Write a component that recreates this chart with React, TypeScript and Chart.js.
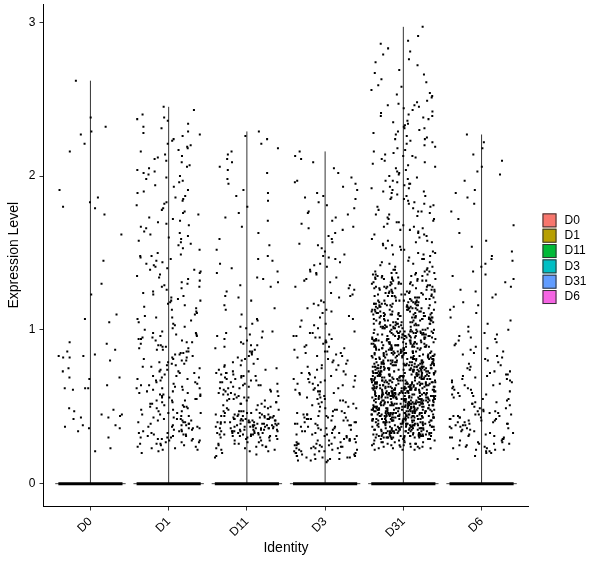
import React, { useEffect, useRef } from "react";
import Chart from "chart.js/auto";
import type { Plugin } from "chart.js";

// identities, in axis order, with ggplot's default hue palette
const IDENTS = ["D0", "D1", "D11", "D3", "D31", "D6"];
const IDENT_COLORS = ["#F8766D", "#B79F00", "#00BA38", "#00BFC4", "#619CFF", "#F564E3"];
const Y_TICKS = [0, 1, 2, 3];

// non-zero expression per cell, in hundredths (the zero cells make the black band at 0)
const D0_EXPR = [
  262, 238, 232, 229, 227, 221, 216, 191, 186, 183, 180, 179, 175, 162, 145, 130, 123, 110, 107, 105,
  92, 91, 87, 86, 84, 83, 83, 82, 82, 80, 75, 73, 69, 69, 68, 64, 62, 62, 62, 61,
  49, 48, 47, 45, 45, 44, 43, 43, 42, 38, 37, 36, 36, 38, 34, 30, 23, 21,
];

const D1_EXPR = [
  245, 243, 240, 238, 237, 234, 232, 231, 229, 227, 226, 224, 223, 221, 220, 218, 217, 216, 214, 213,
  211, 210, 209, 207, 206, 205, 204, 203, 202, 201, 200, 228, 219, 212, 236,
  199, 197, 196, 194, 193, 191, 190, 189, 187, 186, 184, 182, 181, 179, 178, 176, 175, 173, 172, 170,
  169, 167, 166, 164, 162, 161, 159, 158, 156, 155, 153, 152, 150, 198, 185, 177, 168, 160, 157, 183, 171, 163,
  149, 148, 146, 145, 143, 142, 140, 139, 138, 136, 135, 133, 132, 130, 129, 128, 126, 125, 123, 122,
  121, 119, 118, 116, 115, 114, 112, 111, 109, 108, 107, 105, 104, 102, 101, 100, 147, 141, 134, 127,
  120, 113, 106, 144, 137, 131, 124, 117, 110, 103, 148, 139, 128, 119, 108,
  99, 98, 97, 96, 95, 94, 93, 92, 91, 90, 89, 88, 87, 86, 85, 84, 83, 82, 81, 80,
  79, 78, 77, 76, 75, 74, 73, 72, 71, 70, 98, 96, 94, 92, 90, 88, 86, 84, 82, 80,
  78, 76, 74, 72, 70, 97, 93, 89, 85, 81, 77, 73, 95, 87, 79,
  69, 68, 67, 66, 65, 64, 63, 62, 61, 60, 59, 58, 57, 56, 55, 54, 53, 52, 51, 50,
  49, 48, 47, 46, 45, 68, 66, 64, 62, 60, 58, 56, 54, 52, 50, 48, 46, 67, 63, 59,
  55, 51, 47, 65, 61, 57, 53, 49, 45, 69, 62, 58, 54, 50, 46,
  44, 43, 42, 41, 40, 39, 38, 37, 36, 35, 34, 33, 32, 31, 30, 29, 28, 27, 26, 25,
  24, 23, 22, 21, 20, 44, 42, 40, 38, 36, 34, 32, 30, 28, 26, 24, 22, 43, 41, 39,
  37, 35, 33, 31, 29, 27, 25, 23, 41, 38, 35, 32, 29, 26, 40, 36, 33, 30, 27, 39,
  34, 31, 37, 28, 42,
];

const D11_EXPR = [
  229, 226, 221, 218, 214, 211, 209, 206, 204, 202, 224, 216,
  198, 195, 191, 187, 184, 180, 176, 171, 167, 163, 159, 155, 152, 189, 173,
  148, 146, 143, 140, 137, 134, 131, 128, 125, 122, 119, 116, 113, 110, 107, 104, 101, 145, 138, 129,
  121, 114, 106, 102, 133,
  99, 98, 96, 95, 93, 92, 90, 89, 87, 86, 84, 83, 81, 80, 78, 77, 75, 97, 94, 91,
  88, 85, 82, 79, 76, 99, 90, 86, 81, 77,
  74, 73, 72, 71, 70, 69, 68, 67, 66, 65, 64, 63, 62, 61, 60, 59, 58, 57, 56, 55,
  54, 53, 52, 51, 50, 74, 72, 70, 68, 66, 64, 62, 60, 58, 56, 54, 52, 50, 73, 69,
  65, 61, 57, 53, 51, 71, 67, 63, 59, 55, 72, 66, 60, 54, 70, 64, 58, 52, 62, 56,
  49, 48, 47, 46, 45, 44, 43, 42, 41, 40, 39, 38, 37, 36, 35, 34, 33, 32, 31, 30,
  49, 48, 47, 46, 45, 44, 43, 42, 41, 40, 39, 38, 37, 36, 35, 34, 33, 32, 31, 30,
  48, 47, 46, 45, 44, 43, 42, 41, 40, 39, 38, 37, 36, 35, 34, 33, 32, 31, 30,
  47, 45, 43, 41, 39, 37, 35, 33, 31, 46, 44, 42, 40, 38, 36, 34, 32, 30,
  45, 44, 43, 42, 41, 40, 39, 38, 37, 36, 35, 34, 33, 32,
  44, 42, 40, 38, 36, 34, 32, 41, 39, 37, 35, 33, 43, 40, 37, 34, 31, 39, 36,
  29, 28, 27, 26, 25, 24, 23, 22, 21, 20, 19, 18, 17, 29, 28, 27, 26, 25, 24, 23,
  22, 21, 28, 26, 24,
];

const D3_EXPR = [
  216, 213, 209, 205, 202, 211,
  199, 197, 195, 193, 191, 189, 187, 185, 183, 181, 179, 177, 175, 173, 171, 169, 167, 165, 163, 161,
  159, 157, 155, 153, 151, 196, 186, 176, 166, 156,
  149, 147, 146, 144, 142, 141, 139, 137, 136, 134, 132, 131, 129, 127, 126, 124, 122, 121, 119, 117,
  116, 114, 112, 111, 109, 107, 106, 104, 102, 101, 148, 143, 138, 133, 128, 123, 118, 113, 108, 103,
  99, 98, 97, 96, 95, 94, 93, 92, 91, 90, 89, 88, 87, 86, 85, 84, 83, 82, 81, 80,
  79, 78, 77, 76, 75, 98, 95, 92, 89, 86, 83, 80, 77, 96, 85,
  74, 73, 72, 71, 70, 69, 68, 67, 66, 65, 64, 63, 62, 61, 60, 59, 58, 57, 56, 55,
  54, 53, 52, 51, 50, 74, 72, 70, 68, 66, 64, 62, 60, 58, 56, 54, 52, 50, 71, 65,
  59, 53, 67, 61, 55,
  49, 48, 47, 46, 45, 44, 43, 42, 41, 40, 39, 38, 37, 36, 35, 34, 33, 32, 31, 30,
  49, 47, 45, 43, 41, 39, 37, 35, 33, 31, 48, 46, 44, 42, 40, 38, 36, 34, 32, 30,
  47, 44, 41, 38, 35, 32, 45, 42, 39, 36, 33, 43, 37, 31, 40,
  29, 28, 27, 26, 25, 24, 23, 22, 21, 20, 19, 18, 17, 16, 15, 14, 29, 28, 27, 26,
  25, 24, 23, 22, 21, 20, 19, 18, 17, 16, 15, 28, 26, 24, 22, 20, 18, 16, 27, 25,
  23, 21, 19, 17, 15, 29, 26, 23, 20, 17, 28, 24, 21, 18, 25,
];

const D31_EXPR = [
  297, 291, 286, 283, 279, 276, 272, 269, 266, 263, 261, 258, 256, 254, 252, 251, 288, 281, 274, 267, 259, 253,
  249, 248, 247, 246, 245, 244, 243, 242, 241, 240, 239, 238, 237, 236, 235, 234, 233, 232, 231, 230,
  229, 228, 227, 226, 225, 224, 223, 222, 221, 220, 219, 218, 217, 216, 215, 214, 213, 212, 211, 210,
  209, 208, 207, 206, 205, 204, 203, 202, 201, 200, 246, 239, 231, 224, 213,
  199, 198, 197, 196, 195, 194, 193, 192, 191, 190, 189, 188, 187, 186, 185, 184, 183, 182, 181, 180,
  179, 178, 177, 176, 175, 174, 173, 172, 171, 170, 169, 168, 167, 166, 165, 164, 163, 162, 161, 160,
  197, 192, 187, 182, 177, 172, 167, 162, 195, 185, 175, 165, 190, 180, 170,
  159, 158, 157, 156, 155, 154, 153, 152, 151, 150, 149, 148, 147, 146, 145, 144, 143, 142, 141, 140,
  158, 155, 152, 149, 146, 143, 141, 157, 150, 144,
  139, 138, 137, 136, 135, 134, 133, 132, 131, 130, 129, 128, 127, 126, 125, 124, 123, 122, 121, 120,
  139, 138, 137, 136, 135, 134, 133, 132, 131, 130, 129, 128, 127, 126, 125, 124, 123, 122, 121, 120,
  138, 136, 134, 132, 130, 128, 126, 124, 122, 120, 139, 137, 135, 133, 131, 129, 127, 125, 123, 121,
  137, 134, 131, 128, 125, 122, 136, 133, 130, 127, 124, 121, 135, 132, 129, 126, 123, 120,
  130, 126, 122, 128, 124, 121, 133, 127, 125, 123,
  119, 118, 117, 116, 115, 114, 113, 112, 111, 110, 109, 108, 107, 106, 105, 104, 103, 102, 101, 100,
  118, 116, 114, 112, 110, 108, 106, 104, 102, 100, 119, 117, 115, 113, 111, 109, 107, 105, 103, 101,
  117, 115, 112, 109, 106, 103, 100, 118, 114, 111, 108, 105, 102, 116, 113, 110, 107, 104, 101, 119,
  119, 118, 117, 116, 115, 114, 113, 112, 111, 110, 109, 108, 107, 106, 105, 104, 103, 102, 101, 100,
  110, 105, 100, 115, 108, 103, 118, 112, 106, 101, 117, 111, 104, 113, 107, 102, 116, 109, 114, 119,
  101, 102, 103, 104, 105, 106, 107, 108, 109, 110, 111, 112, 113, 114, 115, 116, 117, 118, 119, 100,
  106, 111, 104, 109, 102, 114, 107, 100, 112, 105, 118, 103, 116, 108, 101, 113, 110, 115, 117, 119,
  99, 98, 97, 96, 95, 94, 93, 92, 91, 90, 89, 88, 87, 86, 85, 84, 83, 82, 81, 80,
  98, 96, 94, 92, 90, 88, 86, 84, 82, 80, 99, 97, 95, 93, 91, 89, 87, 85, 83, 81,
  97, 94, 91, 88, 85, 82, 99, 96, 93, 90, 87, 84, 81, 98, 95, 92, 89, 86, 83, 80,
  80, 81, 82, 83, 84, 85, 86, 87, 88, 89, 90, 91, 92, 93, 94, 95, 96, 97, 98, 99,
  90, 85, 80, 95, 88, 83, 98, 92, 86, 81, 97, 91, 84, 93, 87, 82, 96, 89, 94, 99,
  81, 83, 85, 87, 89, 91, 93, 95, 97, 99, 80, 82, 84, 86, 88, 90, 92, 94, 96, 98,
  86, 91, 84, 89, 82, 94, 87, 80, 92, 85, 98, 83, 96, 88, 81, 93, 90, 95, 97, 99,
  99, 98, 97, 96, 95, 94, 93, 92, 91, 90, 89, 88, 87, 86, 85, 84, 83, 82, 81, 80,
  84, 88, 92, 96, 80, 85, 89, 93, 97, 81, 86, 90, 94, 98, 82, 87, 91, 95, 99, 83,
  79, 78, 77, 76, 75, 74, 73, 72, 71, 70, 69, 68, 67, 66, 65, 64, 63, 62, 61, 60,
  78, 76, 74, 72, 70, 68, 66, 64, 62, 60, 79, 77, 75, 73, 71, 69, 67, 65, 63, 61,
  77, 74, 71, 68, 65, 62, 79, 76, 73, 70, 67, 64, 61, 78, 75, 72, 69, 66, 63, 60,
  60, 61, 62, 63, 64, 65, 66, 67, 68, 69, 70, 71, 72, 73, 74, 75, 76, 77, 78, 79,
  70, 65, 60, 75, 68, 63, 78, 72, 66, 61, 77, 71, 64, 73, 67, 62, 76, 69, 74, 79,
  61, 63, 65, 67, 69, 71, 73, 75, 77, 79, 60, 62, 64, 66, 68, 70, 72, 74, 76, 78,
  66, 71, 64, 69, 62, 74, 67, 60, 72, 65, 78, 63, 76, 68, 61, 73, 70, 75, 77, 79,
  79, 78, 77, 76, 75, 74, 73, 72, 71, 70, 69, 68, 67, 66, 65, 64, 63, 62, 61, 60,
  64, 68, 72, 76, 60, 65, 69, 73, 77, 61, 66, 70, 74, 78, 62, 67, 71, 75, 79, 63,
  63, 66, 69, 72, 75, 78, 61, 64, 67, 70, 73, 76, 79, 62, 65, 68, 71, 74, 77, 60,
  75, 70, 65, 60, 79, 74, 69, 64, 78, 73, 68, 63, 77, 72, 67, 62, 76, 71, 66, 61,
  72, 76, 71, 78, 74, 70, 77, 73, 75, 79,
  59, 58, 57, 56, 55, 54, 53, 52, 51, 50, 49, 48, 47, 46, 45, 44, 43, 42, 41, 40,
  58, 56, 54, 52, 50, 48, 46, 44, 42, 40, 59, 57, 55, 53, 51, 49, 47, 45, 43, 41,
  57, 54, 51, 48, 45, 42, 59, 56, 53, 50, 47, 44, 41, 58, 55, 52, 49, 46, 43, 40,
  40, 41, 42, 43, 44, 45, 46, 47, 48, 49, 50, 51, 52, 53, 54, 55, 56, 57, 58, 59,
  50, 45, 40, 55, 48, 43, 58, 52, 46, 41, 57, 51, 44, 53, 47, 42, 56, 49, 54, 59,
  41, 43, 45, 47, 49, 51, 53, 55, 57, 59, 40, 42, 44, 46, 48, 50, 52, 54, 56, 58,
  46, 51, 44, 49, 42, 54, 47, 40, 52, 45, 58, 43, 56, 48, 41, 53, 50, 55, 57, 59,
  59, 58, 57, 56, 55, 54, 53, 52, 51, 50, 49, 48, 47, 46, 45, 44, 43, 42, 41, 40,
  44, 48, 52, 56, 40, 45, 49, 53, 57, 41, 46, 50, 54, 58, 42, 47, 51, 55, 59, 43,
  43, 46, 49, 52, 55, 58, 41, 44, 47, 50, 53, 56, 59, 42, 45, 48, 51, 54, 57, 40,
  55, 50, 45, 40, 59, 54, 49, 44, 58, 53, 48, 43, 57, 52, 47, 42, 56, 51, 46, 41,
  52, 47, 56, 41, 53, 44, 58, 49, 40, 55, 46, 51, 42, 57, 48, 43, 59, 54, 45, 50,
  62, 57, 48, 66, 53, 44, 69, 59, 50, 41, 64, 55, 46, 67, 58, 49, 42, 61, 52, 45,
  47, 56, 63, 51, 43, 68, 54, 60, 49, 65, 40, 57, 46, 62, 53, 44, 59, 48, 66, 55,
  52, 61, 45, 58, 50, 67, 43, 56, 63, 47, 54, 41, 60, 49, 65, 51, 57, 46, 62, 53,
  39, 38, 37, 36, 35, 34, 33, 32, 31, 30, 38, 36, 34, 32, 30, 39, 37, 35, 33, 31,
  37, 34, 31, 39, 36, 33, 30, 38, 35, 32, 30, 31, 32, 33, 34, 35, 36, 37, 38, 39,
  35, 30, 39, 34, 38, 33, 37, 32, 36, 31, 31, 33, 35, 37, 39, 30, 32, 34, 36, 38,
  36, 31, 34, 39, 32, 37, 30, 35, 38, 33, 39, 38, 37, 36, 35, 34, 33, 32, 31, 30,
  34, 38, 32, 36, 30, 35, 39, 33, 37, 31, 33, 36, 39, 31, 34, 37, 30, 32, 35, 38,
  38, 34, 31, 36, 33, 39, 35, 32, 37, 30,
  29, 28, 27, 26, 25, 24, 23, 22, 28, 26, 24, 22, 29, 27, 25, 23, 27, 24, 29, 26,
  23, 28, 25, 22, 29, 27, 26, 24, 25, 28, 23, 27, 26, 29, 24,
];

const D6_EXPR = [
  227, 222, 218, 214, 210, 206, 203, 201,
  197, 191, 186, 182, 177, 172, 168, 163, 158, 154, 151, 189,
  148, 146, 143, 141, 138, 136, 133, 131, 128, 126, 123, 121, 118, 116, 113, 111, 108, 106, 104, 102,
  145, 135, 125, 115, 100,
  99, 97, 96, 94, 93, 91, 90, 88, 87, 85, 84, 82, 81, 79, 78, 76, 75, 98, 92, 86, 80, 77, 95, 89, 83,
  74, 73, 72, 71, 70, 69, 68, 67, 66, 65, 64, 63, 62, 61, 60, 59, 58, 57, 56, 55,
  54, 53, 52, 51, 50, 73, 70, 67, 64, 61, 58, 55, 52, 71, 66, 62, 57, 53, 68, 59,
  49, 48, 47, 46, 45, 44, 43, 42, 41, 40, 39, 38, 37, 36, 35, 49, 47, 45, 43, 41,
  39, 37, 35, 48, 46, 44, 42, 40, 38, 36, 47, 44, 41, 38, 45, 42, 39, 36, 43, 40,
  34, 33, 32, 31, 30, 29, 28, 27, 26, 25, 24, 23, 22, 21, 20, 34, 32, 30, 28, 26,
  24, 22, 20, 33, 31, 29, 27, 25, 23, 21, 18, 16, 30, 26, 22,
];

const EXPR_BY_IDENT = [D0_EXPR, D1_EXPR, D11_EXPR, D3_EXPR, D31_EXPR, D6_EXPR];

const FONT = '"Liberation Sans", Arial, sans-serif';
const JITTER = 0.41; // half width of the point cloud, in category units
const VIOLIN_HALF = 0.45;

// deterministic horizontal jitter (positions only, values stay as read)
function jitter(g: number, i: number) {
  let h = (Math.imul(i + 1, 0x9e3779b9) + Math.imul(g + 1, 0x7f4a7c15)) | 0;
  h ^= h >>> 16;
  h = Math.imul(h, 0x85ebca6b);
  h ^= h >>> 13;
  h = Math.imul(h, 0xc2b2ae35);
  h ^= h >>> 16;
  return ((h >>> 0) / 4294967296 - 0.5) * 2 * JITTER;
}

const identLegend: Plugin<"scatter"> = {
  id: "identLegend",
  afterDraw(chart) {
    const { ctx, chartArea } = chart;
    const size = 14;
    const step = 15.33;
    const x = chartArea.right + 14;
    const total = IDENTS.length * step - (step - size);
    const y0 = 258.7 - total / 2;
    ctx.save();
    ctx.font = `12px ${FONT}`;
    ctx.textBaseline = "middle";
    ctx.textAlign = "left";
    IDENTS.forEach((name, i) => {
      const y = y0 + i * step;
      ctx.fillStyle = IDENT_COLORS[i];
      ctx.fillRect(x, y, size, size);
      ctx.strokeStyle = "#333";
      ctx.lineWidth = 1;
      ctx.strokeRect(x + 0.5, y + 0.5, size - 1, size - 1);
      ctx.fillStyle = "#000";
      ctx.fillText(name, x + size + 8, y + size / 2);
    });
    ctx.restore();
  },
};

export default function App() {
  const canvasRef = useRef<HTMLCanvasElement | null>(null);

  useEffect(() => {
    const ctx = canvasRef.current?.getContext("2d");
    if (!ctx) return;

    Chart.defaults.font.family = FONT;
    Chart.defaults.color = "#000";

    const maxes = EXPR_BY_IDENT.map((vals) => Math.max(...vals) / 100);
    const top = Math.max(...maxes);

    const datasets: any[] = [];
    // jittered cells
    EXPR_BY_IDENT.forEach((vals, g) => {
      datasets.push({
        label: IDENTS[g],
        data: vals.map((v, i) => ({ x: g + 1 + jitter(g, i), y: v / 100 })),
        showLine: false,
        pointStyle: "rect",
        pointRadius: 1.42,
        pointBackgroundColor: "#000",
        pointBorderWidth: 0,
        order: 0,
      });
    });
    // collapsed violins: stem up to the max, wide base at zero, zero cells band
    EXPR_BY_IDENT.forEach((_, g) => {
      const c = g + 1;
      const line = (pts: { x: number; y: number }[], color: string, width: number, order: number) => ({
        data: pts,
        showLine: true,
        borderColor: color,
        borderWidth: width,
        borderCapStyle: "butt",
        pointRadius: 0,
        fill: false,
        order,
      });
      datasets.push(line([{ x: c, y: 0 }, { x: c, y: maxes[g] }], "#333", 1, 2));
      datasets.push(line([{ x: c - VIOLIN_HALF, y: 0 }, { x: c + VIOLIN_HALF, y: 0 }], "#444", 1, 2));
      datasets.push(line([{ x: c - JITTER, y: 0 }, { x: c + JITTER, y: 0 }], "#000", 3, 1));
    });

    const chart = new Chart(ctx, {
      type: "scatter",
      data: { datasets },
      options: {
        animation: false,
        responsive: true,
        maintainAspectRatio: false,
        events: [],
        layout: { padding: { top: 3, right: 71.5, left: 0, bottom: 0 } },
        plugins: { legend: { display: false }, tooltip: { enabled: false } },
        scales: {
          x: {
            type: "linear",
            min: 0.4,
            max: IDENTS.length + 0.6,
            afterBuildTicks: (s: any) => {
              s.ticks = IDENTS.map((_, i) => ({ value: i + 1 }));
            },
            afterFit: (s: any) => {
              s.height = 61.5;
              s.paddingLeft = 0;
              s.paddingRight = 0;
            },
            ticks: {
              autoSkip: false,
              minRotation: 45,
              maxRotation: 45,
              padding: 4,
              color: "#000",
              font: { size: 12 },
              callback: (v: any) => IDENTS[Math.round(Number(v)) - 1] ?? "",
            },
            grid: { drawOnChartArea: false, drawTicks: true, tickLength: 4, tickColor: "#333", tickWidth: 1 },
            border: { display: true, color: "#000", width: 1 },
            title: { display: true, text: "Identity", color: "#000", font: { size: 14 }, padding: { top: 11.6, bottom: 11.6 } },
          },
          y: {
            type: "linear",
            min: -0.05 * top,
            max: top * 1.05,
            afterBuildTicks: (s: any) => {
              s.ticks = Y_TICKS.map((v) => ({ value: v }));
            },
            afterFit: (s: any) => {
              s.width = 43.5;
              s.paddingTop = 0;
              s.paddingBottom = 0;
            },
            ticks: { padding: 4, color: "#000", font: { size: 12 } },
            grid: { drawOnChartArea: false, drawTicks: true, tickLength: 4, tickColor: "#333", tickWidth: 1 },
            border: { display: true, color: "#000", width: 1 },
            title: { display: true, text: "Expression Level", color: "#000", font: { size: 14 }, padding: { top: 6, bottom: 6 } },
          },
        },
      },
      plugins: [identLegend],
    });

    return () => {
      chart.destroy();
    };
  }, []);

  return (
    <div style={{ position: "absolute", left: 0, top: 0, width: 600, height: 568, background: "#fff" }}>
      <canvas ref={canvasRef} />
    </div>
  );
}
